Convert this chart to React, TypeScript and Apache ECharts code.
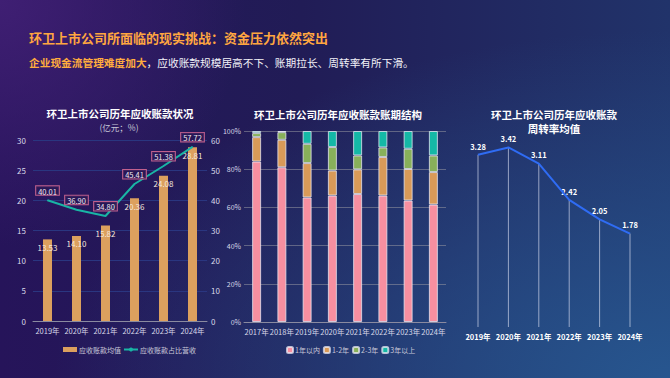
import React, { useEffect, useRef } from "react";
import * as echarts from "echarts";

const years6 = ["2019年", "2020年", "2021年", "2022年", "2023年", "2024年"];
const arAvg = [13.53, 14.1, 15.82, 20.36, 24.08, 28.81];
const arRatio = [40.01, 36.9, 34.8, 45.41, 51.38, 57.72];

const years8 = ["2017年", "2018年", "2019年", "2020年", "2021年", "2022年", "2023年", "2024年"];
const within1 = [84.0, 81.0, 65.2, 66.2, 67.0, 66.2, 63.6, 61.5];
const y1to2 = [12.8, 14.4, 18.0, 13.1, 12.9, 20.2, 16.5, 17.0];
const y2to3 = [2.1, 4.0, 10.1, 12.3, 7.3, 5.0, 10.6, 8.7];
const over3 = [1.1, 0.6, 6.7, 8.4, 12.8, 8.6, 9.3, 12.8];

const turnover = [3.28, 3.42, 3.11, 2.42, 2.05, 1.78];

const FONT = "'Noto Sans CJK SC', 'Noto Sans', sans-serif";

function centered(x: number, y: number, text: string, font: string, fill: string) {
  return {
    type: "text",
    x,
    y,
    style: {
      text,
      fill,
      font,
      textAlign: "center",
      align: "center",
      textVerticalAlign: "middle",
      verticalAlign: "middle",
    },
  };
}

export default function App() {
  const ref = useRef<HTMLDivElement>(null);
  useEffect(() => {
    if (!ref.current) return;
    const chart = echarts.init(ref.current, undefined, { renderer: "svg" });
    const axisLabel = { color: "#d8d8e8", fontSize: 7.5, fontFamily: FONT };
    chart.setOption({
      animation: false,
      textStyle: { fontFamily: FONT },
      graphic: [
        {
          type: "text",
          x: 29,
          y: 37,
          style: {
            text: "环卫上市公司所面临的现实挑战：资金压力依然突出",
            fill: "#ffa640",
            font: `bold 13px ${FONT}`,
            textVerticalAlign: "middle",
            verticalAlign: "middle",
          },
        },
        {
          type: "text",
          x: 29,
          y: 62,
          style: {
            text: "{a|企业现金流管理难度加大}{b|，应收账款规模居高不下、账期拉长、周转率有所下滑。}",
            rich: {
              a: { fill: "#ffac3e", color: "#ffac3e", fontWeight: "bold", fontSize: 10.7, fontFamily: FONT },
              b: { fill: "#f2f2f8", color: "#f2f2f8", fontSize: 10.7, fontFamily: FONT },
            },
            font: `10.7px ${FONT}`,
            textVerticalAlign: "middle",
            verticalAlign: "middle",
          },
        },
        centered(120, 113, "环卫上市公司历年应收账款状况", `bold 10.5px ${FONT}`, "#ffffff"),
        centered(119, 127, "(亿元；%)", `8.5px ${FONT}`, "#c8c8d8"),
        centered(338, 114, "环卫上市公司历年应收账款账期结构", `bold 10.5px ${FONT}`, "#ffffff"),
        centered(554, 114, "环卫上市公司历年应收账款", `bold 10.5px ${FONT}`, "#ffffff"),
        centered(554, 128, "周转率均值", `bold 10.5px ${FONT}`, "#ffffff"),
      ],
      legend: [
        {
          left: 58,
          top: 341,
          itemWidth: 14,
          itemHeight: 5,
          itemGap: 2,
          textStyle: { color: "#c8c8d8", fontSize: 7, fontFamily: FONT, padding: [0, 0, 0, -3] },
          data: [
            { name: "应收账款均值", icon: "rect" },
            { name: "应收账款占比营收" },
          ],
        },
        {
          left: 281,
          top: 341,
          itemWidth: 6,
          itemHeight: 6,
          itemGap: 3,
          textStyle: { color: "#c8c8d8", fontSize: 7, fontFamily: FONT, padding: [0, 0, 0, -3] },
          data: ["1年以内", "1-2年", "2-3年", "3年以上"],
        },
      ],
      grid: [
        { left: 33, right: 463, top: 140, bottom: 57 },
        { left: 244, right: 224, top: 131, bottom: 56 },
        { left: 478, right: 40, top: 117, bottom: 51 },
      ],
      xAxis: [
        {
          type: "category",
          gridIndex: 0,
          data: years6,
          axisLine: { lineStyle: { color: "#8a8aa0" } },
          axisTick: { show: false },
          axisLabel: { ...axisLabel, margin: 6, interval: 0 },
        },
        {
          type: "category",
          gridIndex: 1,
          data: years8,
          axisLine: { lineStyle: { color: "#8a8aa0" } },
          axisTick: { show: false },
          axisLabel: { ...axisLabel, margin: 6, interval: 0 },
        },
        {
          type: "category",
          gridIndex: 2,
          data: years6,
          boundaryGap: false,
          axisLine: { show: false },
          axisTick: { show: false },
          axisLabel: { color: "#ffffff", fontSize: 7.5, fontWeight: "bold", fontFamily: FONT, margin: 6, interval: 0 },
        },
      ],
      yAxis: [
        {
          type: "value",
          gridIndex: 0,
          min: 0,
          max: 30,
          interval: 5,
          axisLine: { show: false },
          axisTick: { show: false },
          axisLabel: { ...axisLabel, fontSize: 8, margin: 7 },
          splitLine: { lineStyle: { color: "#2a3680" } },
        },
        {
          type: "value",
          gridIndex: 0,
          min: 0,
          max: 60,
          interval: 10,
          position: "right",
          axisLine: { show: false },
          axisTick: { show: false },
          axisLabel: { ...axisLabel, fontSize: 8, margin: 4 },
          splitLine: { show: false },
        },
        {
          type: "value",
          gridIndex: 1,
          min: 0,
          max: 100,
          interval: 20,
          axisLine: { show: false },
          axisTick: { show: false },
          axisLabel: { ...axisLabel, fontSize: 7, margin: 3, formatter: "{value}%" },
          splitLine: { lineStyle: { color: "rgba(150,150,160,0.55)" } },
        },
        {
          type: "value",
          gridIndex: 2,
          min: 0,
          max: 4,
          show: false,
        },
      ],
      series: [
        {
          name: "应收账款均值",
          type: "bar",
          xAxisIndex: 0,
          yAxisIndex: 0,
          data: arAvg,
          barWidth: 9,
          itemStyle: { color: "#dca05e" },
          label: {
            show: true,
            position: "insideTop",
            distance: 4,
            color: "#f6e8dc",
            fontSize: 8,
            formatter: (p: any) => p.value.toFixed(2),
          },
          z: 2,
        },
        {
          name: "应收账款占比营收",
          type: "line",
          xAxisIndex: 0,
          yAxisIndex: 1,
          data: arRatio,
          symbol: "circle",
          symbolSize: 1,
          lineStyle: { color: "#19b5a5", width: 2 },
          itemStyle: { color: "#19b5a5" },
          label: {
            show: true,
            position: "top",
            distance: 5,
            color: "#f0e8f0",
            fontSize: 7.5,
            backgroundColor: "rgba(40,24,86,0.85)",
            borderColor: "#c0608e",
            borderWidth: 1,
            padding: [1, 2, 0, 2],
            formatter: (p: any) => p.value.toFixed(2),
          },
          z: 3,
        },
        {
          name: "1年以内",
          type: "bar",
          stack: "age",
          xAxisIndex: 1,
          yAxisIndex: 2,
          data: within1,
          barWidth: 9,
          itemStyle: { color: "#f78fa0", borderColor: "rgba(235,235,245,0.75)", borderWidth: 1 },
        },
        {
          name: "1-2年",
          type: "bar",
          stack: "age",
          xAxisIndex: 1,
          yAxisIndex: 2,
          data: y1to2,
          barWidth: 9,
          itemStyle: { color: "#d99a58", borderColor: "rgba(235,235,245,0.75)", borderWidth: 1 },
        },
        {
          name: "2-3年",
          type: "bar",
          stack: "age",
          xAxisIndex: 1,
          yAxisIndex: 2,
          data: y2to3,
          barWidth: 9,
          itemStyle: { color: "#88b05a", borderColor: "rgba(235,235,245,0.75)", borderWidth: 1 },
        },
        {
          name: "3年以上",
          type: "bar",
          stack: "age",
          xAxisIndex: 1,
          yAxisIndex: 2,
          data: over3,
          barWidth: 9,
          itemStyle: { color: "#15b8a6", borderColor: "rgba(235,235,245,0.75)", borderWidth: 1 },
        },
        {
          name: "周转率竖线",
          type: "bar",
          xAxisIndex: 2,
          yAxisIndex: 3,
          data: turnover,
          barWidth: 1,
          itemStyle: { color: "rgba(215,220,240,0.65)" },
          label: {
            show: true,
            position: "top",
            distance: 5,
            color: "#ffffff",
            fontSize: 7.5,
            fontWeight: "bold",
            formatter: (p: any) => p.value.toFixed(2),
          },
          z: 2,
        },
        {
          name: "周转率",
          type: "line",
          xAxisIndex: 2,
          yAxisIndex: 3,
          data: turnover,
          showSymbol: false,
          lineStyle: { color: "#2f6cf4", width: 2 },
          itemStyle: { color: "#2f6cf4" },
          z: 3,
        },
      ],
    });
    return () => chart.dispose();
  }, []);

  return (
    <div
      style={{
        position: "fixed",
        left: 0,
        top: 0,
        width: 670,
        height: 378,
        background:
          "radial-gradient(circle at 0% 0%, rgba(66,32,118,0.9) 0%, rgba(66,32,118,0) 32%), radial-gradient(ellipse at 100% 100%, #27568f 0%, rgba(39,86,143,0) 65%), linear-gradient(90deg, #26145a 0%, #211c56 45%, #21336a 100%)",
      }}
    >
      <div ref={ref} style={{ width: 670, height: 378 }} />
    </div>
  );
}
